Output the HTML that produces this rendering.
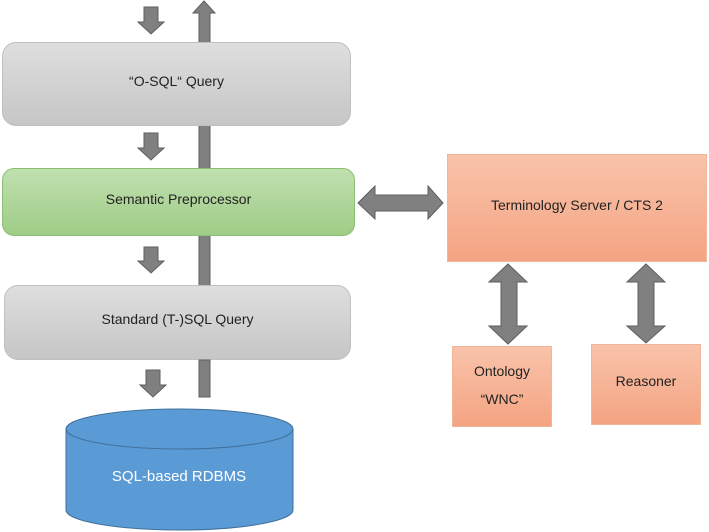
<!DOCTYPE html>
<html><head><meta charset="utf-8"><style>
body{margin:0;width:709px;height:532px;background:#fff;overflow:hidden;position:relative;font-family:"Liberation Sans",sans-serif}
.b{position:absolute;box-sizing:border-box;display:flex;align-items:center;justify-content:center;text-align:center;font-size:14px;color:#222;padding-bottom:7px}
.g{background:linear-gradient(#dedede,#c6c6c6);border:1px solid #c0c0c0;border-radius:14px}
.gr{background:linear-gradient(#c0e0b0,#9fcc86);border:1px solid #8dbf72;border-radius:12px}
.s{background:linear-gradient(#f9c3aa,#f4a482);border:1px solid #f1b69a}
svg{position:absolute;left:0;top:0}
</style></head><body>
<svg width="709" height="532">
<g fill="#808080" stroke="#5e5e5e" stroke-width="1">
<polygon points="199,380 199,13 193,13 204,1 215,13 210,13 210,380"/>
</g>
</svg>
<div class="b g" style="left:2px;top:42px;width:349px;height:84px">“O-SQL“ Query</div>
<div class="b gr" style="left:2px;top:168px;width:353px;height:68px">Semantic Preprocessor</div>
<div class="b g" style="left:4px;top:285px;width:347px;height:75px">Standard (T-)SQL Query</div>
<svg width="709" height="532">
<g fill="#808080" stroke="#5e5e5e" stroke-width="1">
<polygon points="199,397 199,360 210,360 210,397"/>
<polygon points="144,7 158,7 158,22 164,22 151,34 138,22 144,22"/>
<polygon points="144,133 158,133 158,148 164,148 151,160 138,148 144,148"/>
<polygon points="144,247 158,247 158,261 164,261 151,273 138,261 144,261"/>
<polygon points="146,370 160,370 160,385 166,385 153,397 140,385 146,385"/>
<polygon points="358,203 375,186 375,195 428,195 428,186 443,203 428,219 428,211 375,211 375,219"/>
<polygon points="508,264 527,282 517,282 517,326 527,326 508,344 489,326 501,326 501,282 489,282"/>
<polygon points="646,264 665,282 654,282 654,326 665,326 646,343 627,326 638,326 638,282 627,282"/>
</g>
<path d="M66,429 L66,510 A113.5,20 0 0 0 293,510 L293,429 Z" fill="#5b9bd5" stroke="#41719c"/>
<ellipse cx="179.5" cy="429" rx="113.5" ry="20" fill="#5b9bd5" stroke="#41719c"/>
<text x="179" y="481" font-size="15" fill="#fff" text-anchor="middle" font-family="Liberation Sans">SQL-based RDBMS</text>
</svg>
<div class="b s" style="left:447px;top:154px;width:260px;height:108px">Terminology Server / CTS 2</div>
<div class="b s" style="left:452px;top:346px;width:100px;height:81px;line-height:28px;padding-bottom:4px">Ontology<br>“WNC”</div>
<div class="b s" style="left:591px;top:344px;width:110px;height:81px">Reasoner</div>
</body></html>
